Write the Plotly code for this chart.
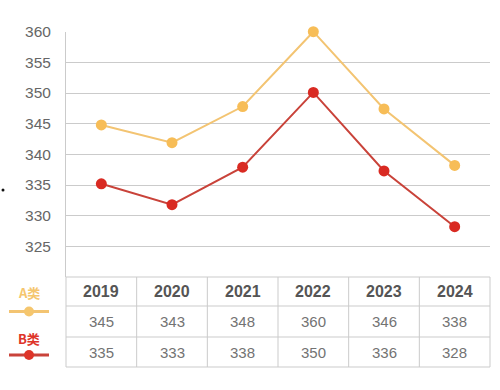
import plotly.graph_objects as go

years = ["2019", "2020", "2021", "2022", "2023", "2024"]
a_line = [344.8, 341.9, 347.8, 360.0, 347.4, 338.2]
b_line = [335.2, 331.8, 337.9, 350.1, 337.3, 328.2]
a_table = ["345", "343", "348", "360", "346", "338"]
b_table = ["335", "333", "338", "350", "336", "328"]
series_names = ["A类", "B类"]
y_ticks = [325, 330, 335, 340, 345, 350, 355, 360]

W, H = 500, 390
A_LINE, A_MARK = "#F3C472", "#F7BD57"
B_LINE, B_MARK = "#C9433A", "#D92A22"
GRID = "#CBCBCB"

def px(x):
    return x / W

def py(y):
    return 1 - y / H

x0, x1 = 66, 490
ytop, ybot = 31.7, 277

fig = go.Figure()
xs = list(range(len(years)))
fig.add_trace(go.Scatter(x=xs, y=a_line, mode="lines+markers", cliponaxis=False,
                         line=dict(color=A_LINE, width=2),
                         marker=dict(color=A_MARK, size=11), showlegend=False))
fig.add_trace(go.Scatter(x=xs, y=b_line, mode="lines+markers", cliponaxis=False,
                         line=dict(color=B_LINE, width=2),
                         marker=dict(color=B_MARK, size=11), showlegend=False))

shapes = []
annotations = []

# table geometry
rows = [277, 306, 337, 367]
ncol = len(years)
cw = (x1 - x0) / ncol
line_style = dict(color=GRID, width=1)
for r in rows[1:]:
    shapes.append(dict(type="line", xref="paper", yref="paper",
                       x0=px(x0), x1=px(x1), y0=py(r), y1=py(r), line=line_style))
for i in range(ncol + 1):
    xx = x0 + i * cw
    shapes.append(dict(type="line", xref="paper", yref="paper",
                       x0=px(xx), x1=px(xx), y0=py(rows[0]), y1=py(rows[-1]), line=line_style))
shapes.append(dict(type="line", xref="paper", yref="paper",
                   x0=px(x0), x1=px(x1), y0=py(rows[0]), y1=py(rows[0]), line=line_style))

def note(x, xref, y, text, font):
    return dict(x=x, xref=xref, y=y, yref="paper", text=text, showarrow=False,
                xanchor="center", yanchor="middle", font=font)

hdr_font = dict(size=16, color="#555555", family="Liberation Sans, Arial")
val_font = dict(size=15, color="#737373", family="Liberation Sans, Arial")
for i, yr in enumerate(years):
    annotations.append(note(i, "x", py((rows[0] + rows[1]) / 2), "<b>%s</b>" % yr, hdr_font))
    annotations.append(note(i, "x", py((rows[1] + rows[2]) / 2), a_table[i], val_font))
    annotations.append(note(i, "x", py((rows[2] + rows[3]) / 2), b_table[i], val_font))

# legend at left
for name, ty, ly, lc, mc in [(series_names[0], 292, 311.5, A_LINE, "#F5C66E"),
                             (series_names[1], 338, 355, B_LINE, "#DE3428")]:
    annotations.append(note(px(29), "paper", py(ty), "<b>%s</b>" % name,
                            dict(size=13, color=mc, family="Noto Sans CJK SC")))
    shapes.append(dict(type="line", xref="paper", yref="paper", x0=px(9), x1=px(49),
                       y0=py(ly), y1=py(ly), line=dict(color=lc, width=3)))
    shapes.append(dict(type="circle", xref="paper", yref="paper", x0=px(24), x1=px(34),
                       y0=py(ly + 5), y1=py(ly - 5), line=dict(width=0), fillcolor=mc))

# stray dot
shapes.append(dict(type="circle", xref="paper", yref="paper", x0=px(1.5), x1=px(4.5),
                   y0=py(191.5), y1=py(188.5), line=dict(width=0), fillcolor="#111111"))

fig.update_layout(
    width=W, height=H, margin=dict(l=0, r=0, t=0, b=0, pad=0, autoexpand=False),
    paper_bgcolor="white", plot_bgcolor="white",
    xaxis=dict(domain=[px(x0), px(x1)], range=[-0.5, ncol - 0.5], showgrid=False,
               showticklabels=False, zeroline=False, showline=False, fixedrange=True),
    yaxis=dict(domain=[py(ybot), py(ytop)], range=[320, 360], tickvals=y_ticks,
               showgrid=True, gridcolor=GRID, gridwidth=1, zeroline=False,
               showline=True, linecolor=GRID, linewidth=1, ticks="",
               ticklabelstandoff=11, automargin=False,
               tickfont=dict(size=15.5, color="#666666", family="Liberation Sans, Arial")),
    shapes=shapes, annotations=annotations,
)

fig.write_html("out.html", config={"displayModeBar": False},
               post_script="document.body.style.margin='0';document.body.style.overflow='hidden';")
